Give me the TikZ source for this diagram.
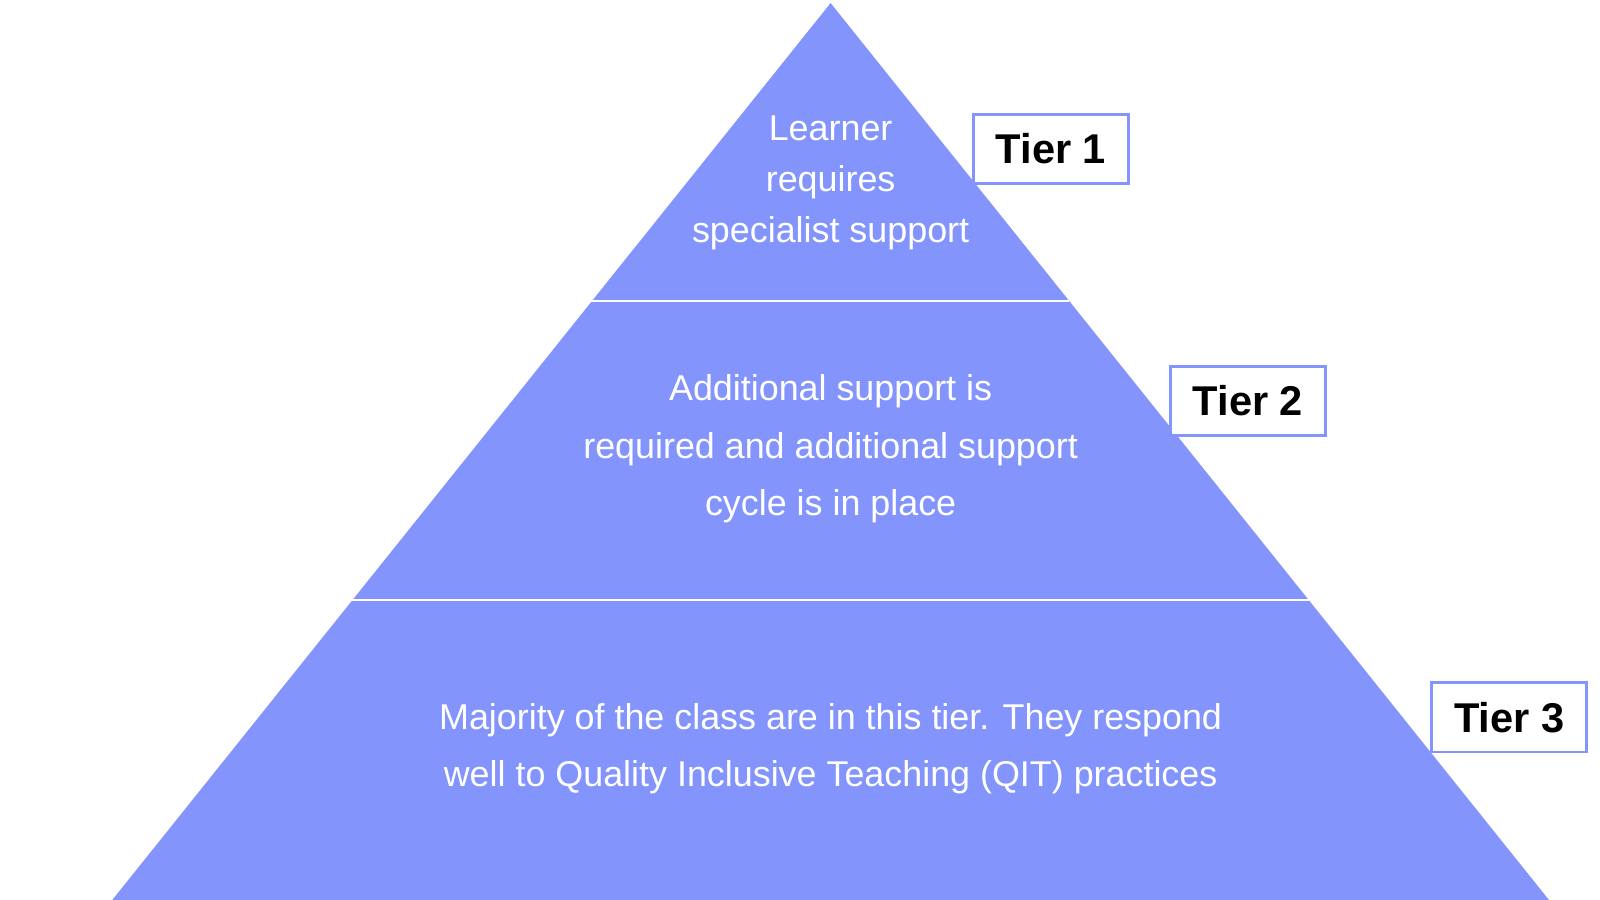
\documentclass[tikz,border=0pt]{standalone}
\usepackage{fontspec}
\setmainfont{Liberation Sans}
\usetikzlibrary{positioning}
\definecolor{tierblue}{HTML}{8394FC}
\tikzset{
  layer/.style={fill=tierblue,draw=white,line width=2pt},
  layertext/.style={text=white,align=center,font=\fontsize{25}{0}\selectfont},
  tierbox/.style={draw=tierblue,line width=2pt,fill=white,minimum width=3.8cm,minimum height=1.7cm,font=\fontsize{29}{34}\selectfont\bfseries}
}
\begin{document}
\begin{tikzpicture}[x=0.025cm,y=-0.025cm]
    \useasboundingbox (0,0) rectangle (1568,882);
    % pyramid layers
    \fill[tierblue] (814,3) -- (1518,882) -- (110,882) -- cycle;
    \draw[white,line width=2pt] (579,295) -- (1048,295);
    \draw[white,line width=2pt] (345,588) -- (1283,588);
    \node[layertext,font=\fontsize{25}{35.5}\selectfont] (top) at (814,179) {Learner\\requires\\specialist support};
    \node[layertext,font=\fontsize{25}{40}\selectfont] (mid) at (814,440) {Additional support is\\required and additional support\\cycle is in place};
    \node[layertext,font=\fontsize{25}{40}\selectfont] (low) at (814,734) {Majority of the class are in this tier. They respond\\well to Quality Inclusive Teaching (QIT) practices};
    % tier labels
    \node[tierbox] (t1) at (1030,146) {Tier 1};
    \node[tierbox] (t2) at (1223,393) {Tier 2};
    \node[tierbox] (t3) at (1479,703) {Tier 3};
\end{tikzpicture}
\end{document}
